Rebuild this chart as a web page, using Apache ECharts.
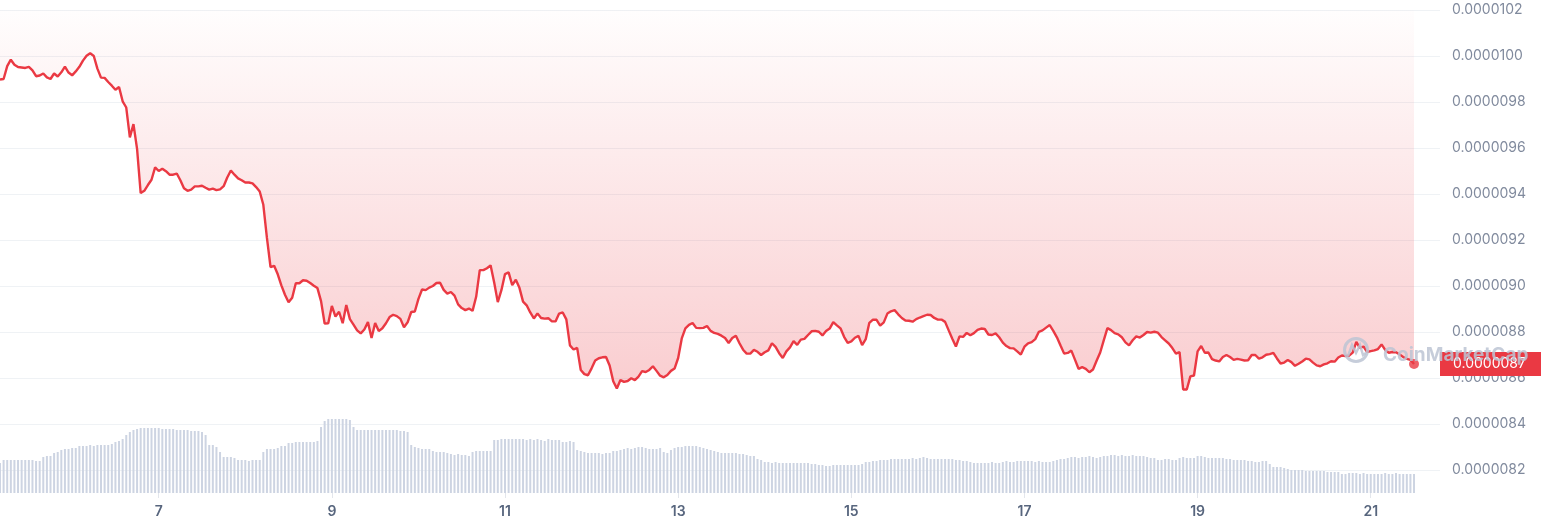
<!DOCTYPE html>
<html>
<head>
<meta charset="utf-8">
<title>Price chart</title>
<script src="https://cdn.jsdelivr.net/npm/echarts@6/dist/echarts.min.js"></script>
<style>
  html, body { margin: 0; padding: 0; background: #ffffff; }
  #chart { width: 1541px; height: 528px; }
</style>
</head>
<body>
<div id="chart"></div>
<script>
// ---- data ----
// hourly samples; first sample = day 5, 04:00
const startTime = Date.UTC(2024, 4, 5, 4, 0, 0);
const HOUR = 3600 * 1000;

// price in units of 1e-8 (e.g. 990 = 0.00000990)
const priceE8 = [
  989.8, 990.0, 995.6, 998.4, 996.2, 995.2, 995.0, 994.8, 995.3, 993.8,
  991.2, 991.5, 992.4, 990.7, 990.0, 992.4, 991.1, 992.9, 995.4, 992.8,
  991.6, 993.3, 995.3, 998.0, 1000.1, 1001.2, 1000.0, 994.5, 990.6, 990.5,
  988.7, 987.1, 985.3, 986.5, 980.3, 977.6, 964.6, 970.4, 959.6, 940.4,
  941.4, 943.9, 946.2, 951.6, 950.0, 951.0, 949.9, 948.4, 948.4, 948.9,
  946.0, 942.5, 941.4, 941.9, 943.3, 943.3, 943.6, 942.7, 941.9, 942.3,
  941.7, 942.0, 943.4, 947.2, 950.2, 948.4, 946.8, 946.0, 945.0, 945.0,
  944.6, 943.0, 941.1, 935.3, 920.9, 908.2, 908.8, 905.1, 900.3, 896.2,
  892.9, 894.9, 901.2, 901.2, 902.5, 902.3, 901.3, 900.1, 899.1, 893.4,
  883.7, 883.8, 891.3, 886.7, 888.8, 883.8, 891.7, 885.6, 883.2, 880.7,
  879.4, 881.1, 884.3, 877.4, 883.9, 880.4, 881.6, 883.8, 886.5, 887.5,
  886.9, 885.7, 882.1, 884.2, 888.7, 888.9, 894.4, 898.5, 898.2, 899.3,
  900.0, 901.3, 901.4, 898.3, 896.7, 897.4, 895.8, 892.0, 890.4, 889.5,
  890.2, 889.2, 895.3, 906.9, 906.9, 907.7, 909.0, 901.5, 893.0, 898.2,
  905.2, 905.9, 900.4, 902.7, 899.2, 893.2, 891.6, 888.5, 885.9, 888.1,
  886.1, 885.8, 886.0, 884.6, 884.6, 888.0, 888.5, 885.5, 874.2, 872.4,
  873.1, 863.5, 861.7, 861.2, 864.2, 867.6, 868.6, 869.0, 869.1, 865.4,
  858.6, 855.4, 859.1, 858.3, 858.7, 859.9, 859.1, 860.6, 863.0, 862.6,
  863.5, 865.1, 863.1, 861.0, 860.3, 861.3, 863.1, 864.1, 868.7, 877.2,
  881.6, 883.1, 883.9, 881.8, 881.7, 881.8, 882.6, 880.5, 879.6, 879.2,
  878.4, 877.4, 875.2, 877.4, 878.4, 875.1, 872.3, 870.6, 870.6, 872.2,
  871.4, 870.0, 871.2, 872.0, 875.1, 873.5, 870.8, 868.7, 871.6, 873.3,
  876.0, 874.4, 876.7, 877.0, 878.7, 880.3, 880.5, 880.1, 878.5, 880.4,
  881.5, 884.3, 882.9, 881.6, 877.9, 875.3, 875.9, 877.5, 878.3, 874.3,
  876.9, 884.0, 885.4, 885.3, 882.8, 884.2, 888.0, 889.0, 889.5, 887.7,
  886.1, 885.0, 884.9, 884.5, 885.6, 886.3, 886.9, 887.5, 887.4, 886.1,
  885.4, 885.4, 884.4, 880.7, 877.1, 873.7, 878.1, 877.9, 879.6, 878.6,
  879.5, 880.9, 881.5, 881.3, 878.9, 878.7, 879.4, 877.7, 875.4, 873.9,
  873.0, 872.9, 871.6, 870.2, 873.6, 875.1, 875.6, 876.9, 880.1, 880.7,
  881.9, 883.0, 880.5, 877.7, 874.1, 870.6, 870.9, 871.9, 868.0, 864.0,
  864.7, 864.0, 862.5, 863.7, 867.5, 871.1, 876.5, 881.7, 880.8, 879.5,
  879.0, 877.7, 875.5, 874.2, 876.4, 878.1, 877.6, 878.7, 880.0, 879.7,
  880.1, 879.7, 877.8, 876.4, 875.0, 873.0, 870.6, 871.2, 855.0, 855.0,
  860.7, 861.1, 871.6, 873.9, 871.0, 871.1, 868.2, 867.6, 867.2, 869.1,
  870.0, 869.1, 867.9, 868.3, 868.0, 867.6, 867.7, 870.0, 870.0, 868.4,
  869.0, 870.1, 870.4, 870.9, 868.5, 866.3, 866.7, 867.8, 866.9, 865.3,
  866.2, 867.2, 868.4, 868.1, 866.7, 865.5, 865.1, 865.9, 866.4, 867.3,
  867.1, 868.9, 869.8, 869.5, 869.7, 871.0, 875.7, 873.0, 873.7, 871.3,
  871.7, 872.0, 872.6, 874.6, 872.2, 871.0, 871.3, 871.2, 870.2, 869.1,
  868.3, 867.9, 866.1
];

// hourly volume, relative bar heights
const volumeRel = [
  30,33,33,33,33,33,33,33,33,33,
  32,32,36,37,37,40,41,43,44,44,
  45,45,47,47,47,48,47,48,48,48,
  48,49,51,52,54,58,61,63,64,65,
  65,65,65,65,65,64,64,64,64,63,
  63,63,63,62,62,62,61,58,48,48,
  46,41,36,36,36,35,33,33,33,32,
  33,33,33,41,44,44,44,45,47,47,
  50,50,51,51,51,51,51,51,52,66,
  72,74,74,74,74,74,74,73,66,63,
  63,63,63,63,63,63,63,63,63,63,
  63,62,62,61,48,46,45,44,44,44,
  42,41,41,41,40,39,38,39,38,38,
  37,41,42,42,42,42,42,53,53,54,
  54,54,54,54,54,54,53,54,53,54,
  53,52,54,53,53,53,51,51,52,51,
  43,42,41,40,40,40,40,39,40,40,
  42,42,43,44,45,44,45,46,46,45,
  44,44,44,45,41,40,43,45,46,46,
  47,47,47,47,46,45,44,43,42,41,
  40,40,40,40,40,39,39,38,37,37,
  34,33,31,31,30,31,30,30,30,30,
  30,30,30,30,30,29,29,28,28,27,
  27,28,28,28,28,28,28,28,28,29,
  31,31,32,32,33,33,33,34,34,34,
  34,34,34,35,34,35,36,35,34,34,
  34,34,34,34,34,33,33,32,32,31,
  30,30,30,30,30,31,30,30,31,32,
  31,31,32,32,32,32,32,31,32,31,
  31,31,32,33,34,34,35,36,36,35,
  36,36,37,36,35,36,37,37,38,38,
  37,38,37,37,38,37,37,37,36,35,
  35,33,33,34,34,33,33,35,36,35,
  35,35,37,37,36,35,35,35,35,35,
  34,34,33,33,33,33,32,32,31,31,
  32,32,29,26,26,26,25,24,23,23,
  23,23,22,22,22,22,22,22,21,21,
  21,21,19,19,20,20,20,19,20,19,
  19,19,19,19,20,19,19,20,19,19,
  19,19,19
];

// x tick labels (day of month)
const dayTicks = [7, 9, 11, 13, 15, 17, 19, 21];

// ---- build chart ----
const RED = '#ea3943';
const WM = 'rgba(188,196,212,0.85)';
const FONT = 'Inter, "Noto Sans", sans-serif';
// x axis in hours since the first sample
const axisMin = 0;
const axisMax = 399.2;

const priceData = priceE8.map((v, i) => [i, v]);
const volData = volumeRel.map((v, i) => [i, v]);
const lastPoint = priceData[priceData.length - 1];
const tickHours = dayTicks.map(d => (Date.UTC(2024, 4, d, 0, 0, 0) - startTime) / HOUR);
const fmtPrice = v => (v * 1e-8).toFixed(7);
const fmtDay = h => String(new Date(startTime + h * HOUR).getUTCDate());

const chart = echarts.init(document.getElementById('chart'), null, { renderer: 'canvas' });

chart.setOption({
  animation: false,
  backgroundColor: '#ffffff',
  textStyle: { fontFamily: FONT },
  grid: [
    { left: 0, right: 101, top: 10, bottom: 12 },
    { left: 0, right: 101, bottom: 35, height: 100 }
  ],
  xAxis: [
    {
      gridIndex: 0, type: 'value', min: axisMin, max: axisMax, show: false
    },
    {
      gridIndex: 1, type: 'value', min: axisMin, max: axisMax,
      axisLine: { show: false },
      splitLine: { show: false },
      axisTick: {
        show: true, customValues: tickHours, length: 5,
        lineStyle: { color: '#e3e6ec', width: 1 }
      },
      axisLabel: {
        customValues: tickHours,
        margin: 12,
        color: '#58667e',
        fontSize: 14,
        fontWeight: 600,
        fontFamily: FONT,
        formatter: fmtDay
      }
    }
  ],
  yAxis: [
    {
      gridIndex: 0, type: 'value', position: 'right',
      min: 800, max: 1020, interval: 20,
      axisLine: { show: false },
      axisTick: { show: false },
      splitLine: { show: true, showMinLine: false, lineStyle: { color: '#eff2f5', width: 1 } },
      axisLabel: {
        showMinLabel: false,
        margin: 12,
        color: '#808a9d',
        fontSize: 14,
        fontFamily: FONT,
        formatter: fmtPrice
      }
    },
    {
      gridIndex: 1, type: 'value', min: 0, max: 100, show: false
    }
  ],
  series: [
    {
      name: 'Volume',
      type: 'bar',
      xAxisIndex: 1, yAxisIndex: 1,
      data: volData,
      barWidth: 2,
      itemStyle: { color: '#cdd4e2' },
      z: 1
    },
    {
      name: 'Price',
      type: 'line',
      xAxisIndex: 0, yAxisIndex: 0,
      data: priceData,
      showSymbol: false,
      smooth: false,
      lineStyle: { color: RED, width: 2.4 },
      areaStyle: {
        origin: 'end',
        color: {
          type: 'linear', x: 0, y: 0, x2: 0, y2: 1,
          colorStops: [
            { offset: 0, color: 'rgba(234,57,67,0.01)' },
            { offset: 1, color: 'rgba(234,57,67,0.36)' }
          ]
        }
      },
      markLine: {
        silent: true,
        symbol: ['none', 'none'],
        lineStyle: { color: 'rgba(0,0,0,0)', width: 0, type: 'solid' },
        label: {
          show: true,
          position: 'end',
          distance: 0,
          formatter: () => fmtPrice(lastPoint[1]),
          color: '#ffffff',
          fontSize: 14,
          fontFamily: FONT,
          backgroundColor: RED,
          lineHeight: 16,
          padding: [4, 40, 4, 13]
        },
        data: [{ yAxis: lastPoint[1] }]
      },
      z: 3
    },
    {
      name: 'Last',
      type: 'scatter',
      xAxisIndex: 0, yAxisIndex: 0,
      data: [lastPoint],
      symbol: 'circle',
      symbolSize: 10,
      itemStyle: { color: RED },
      z: 5
    }
  ],
  graphic: [
    { type: 'circle', zlevel: 1, z: 100, silent: true,
      shape: { cx: 1356, cy: 350, r: 11.5 },
      style: { fill: 'none', stroke: WM, lineWidth: 3 } },
    { type: 'polyline', zlevel: 1, z: 100, silent: true,
      shape: { points: [[1348, 356], [1352, 345], [1356, 353], [1360, 345], [1363, 355], [1366, 353]] },
      style: { fill: 'none', stroke: WM, lineWidth: 2.5 } },
    { type: 'text', zlevel: 1, z: 100, silent: true, x: 1383, y: 355,
      style: { text: 'CoinMarketCap', fill: WM, font: 'bold 19px Inter, "Noto Sans", sans-serif',
               align: 'left', verticalAlign: 'middle' } }
  ]
});
</script>
</body>
</html>
